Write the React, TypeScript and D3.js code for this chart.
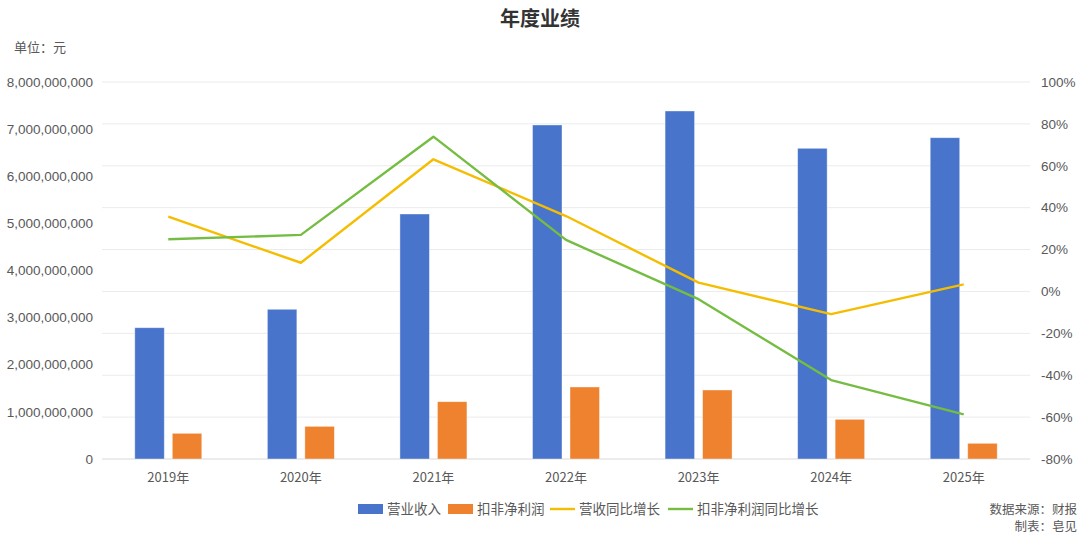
import React from "react";
import * as d3 from "d3";

const categories = ["2019年", "2020年", "2021年", "2022年", "2023年", "2024年", "2025年"];
const revenue = [2.786e9, 3.177e9, 5.199e9, 7.088e9, 7.385e9, 6.593e9, 6.818e9];
const netProfit = [0.545e9, 0.693e9, 1.216e9, 1.528e9, 1.464e9, 0.842e9, 0.333e9];
const revenueGrowth = [35.7, 13.7, 63.1, 36.0, 4.2, -10.8, 3.4];
const profitGrowth = [24.9, 27.0, 73.9, 24.6, -3.7, -42.3, -58.7];
const leftTicks = [0, 1e9, 2e9, 3e9, 4e9, 5e9, 6e9, 7e9, 8e9];
const rightTicks = [-80, -60, -40, -20, 0, 20, 40, 60, 80, 100];

const W = 1080;
const H = 537;
const M = { left: 102, right: 1030, top: 82, bottom: 459 };
const COLORS = { blue: "#4874CB", orange: "#EE822F", yellow: "#F5BD00", green: "#75BD42" };
const LATIN = "'Liberation Sans', 'Noto Sans CJK SC', sans-serif";
const CJK = "'Noto Sans CJK SC', 'Liberation Sans', sans-serif";

export default function App() {
  const x = d3.scaleBand<string>().domain(categories).range([M.left, M.right]).paddingInner(0).paddingOuter(0);
  const yL = d3.scaleLinear().domain([0, 8e9]).range([M.bottom, M.top]);
  const yR = d3.scaleLinear().domain([-80, 100]).range([M.bottom, M.top]);
  const bw = 29.5;
  const gap = 8;
  const cx = (c: string) => (x(c) as number) + x.bandwidth() / 2;
  const fmt = d3.format(",");

  const line = (vals: number[]) =>
    d3
      .line<number>()
      .x((_, i) => cx(categories[i]))
      .y((v) => yR(v))(vals) as string;

  const legend = [
    { type: "rect", color: COLORS.blue, label: "营业收入", x: 358 },
    { type: "rect", color: COLORS.orange, label: "扣非净利润", x: 448 },
    { type: "line", color: COLORS.yellow, label: "营收同比增长", x: 550 },
    { type: "line", color: COLORS.green, label: "扣非净利润同比增长", x: 668 },
  ];

  return (
    <div style={{ position: "fixed", left: 0, top: 0, width: W, height: H, background: "#fff" }}>
      <svg width={W} height={H} viewBox={`0 0 ${W} ${H}`}>
        <rect width={W} height={H} fill="#fff" />
        <text x={540} y={26} textAnchor="middle" fontFamily={CJK} fontSize={20} fontWeight="bold" fill="#333">
          年度业绩
        </text>
        <text x={14} y={52} fontFamily={CJK} fontSize={13} fill="#595959">
          单位：元
        </text>
        {rightTicks.map((t) => (
          <line
            key={"g" + t}
            x1={M.left}
            x2={M.right}
            y1={yR(t)}
            y2={yR(t)}
            stroke={t === -80 ? "#d9d9d9" : "#ebebeb"}
            strokeWidth={1}
          />
        ))}
        {leftTicks.map((t) => (
          <text
            key={"l" + t}
            x={93}
            y={yL(t)}
            dy="0.35em"
            textAnchor="end"
            fontFamily={LATIN}
            fontSize={13.5}
            fill="#595959"
          >
            {fmt(t)}
          </text>
        ))}
        {rightTicks.map((t) => (
          <text
            key={"r" + t}
            x={1041}
            y={yR(t)}
            dy="0.35em"
            textAnchor="start"
            fontFamily={LATIN}
            fontSize={13.5}
            fill="#595959"
          >
            {t + "%"}
          </text>
        ))}
        {categories.map((c, i) => (
          <g key={c}>
            <rect
              x={cx(c) - gap / 2 - bw}
              y={yL(revenue[i])}
              width={bw}
              height={yL(0) - yL(revenue[i])}
              fill={COLORS.blue}
              stroke="#ffffff"
              strokeOpacity={0.5}
              strokeWidth={0.8}
            />
            <rect
              x={cx(c) + gap / 2}
              y={yL(netProfit[i])}
              width={bw}
              height={yL(0) - yL(netProfit[i])}
              fill={COLORS.orange}
              stroke="#ffffff"
              strokeOpacity={0.5}
              strokeWidth={0.8}
            />
            <text x={cx(c)} y={477} dy="0.35em" textAnchor="middle" fontFamily={CJK} fontSize={13} fill="#595959">
              {c}
            </text>
          </g>
        ))}
        <path d={line(revenueGrowth)} fill="none" stroke={COLORS.yellow} strokeWidth={2.4} strokeLinejoin="round" />
        <path d={line(profitGrowth)} fill="none" stroke={COLORS.green} strokeWidth={2.4} strokeLinejoin="round" />
        {legend.map((l) => (
          <g key={l.label}>
            {l.type === "rect" ? (
              <rect x={l.x} y={504} width={25} height={10} fill={l.color} />
            ) : (
              <line x1={l.x} x2={l.x + 25} y1={509} y2={509} stroke={l.color} strokeWidth={2.4} />
            )}
            <text x={l.x + 29} y={509} dy="0.35em" fontFamily={CJK} fontSize={13.5} fill="#595959">
              {l.label}
            </text>
          </g>
        ))}
        <text x={1077} y={510} dy="0.35em" textAnchor="end" fontFamily={CJK} fontSize={12.5} fill="#595959">
          数据来源：财报
        </text>
        <text x={1077} y={527} dy="0.35em" textAnchor="end" fontFamily={CJK} fontSize={12.5} fill="#595959">
          制表：皂见
        </text>
      </svg>
    </div>
  );
}
